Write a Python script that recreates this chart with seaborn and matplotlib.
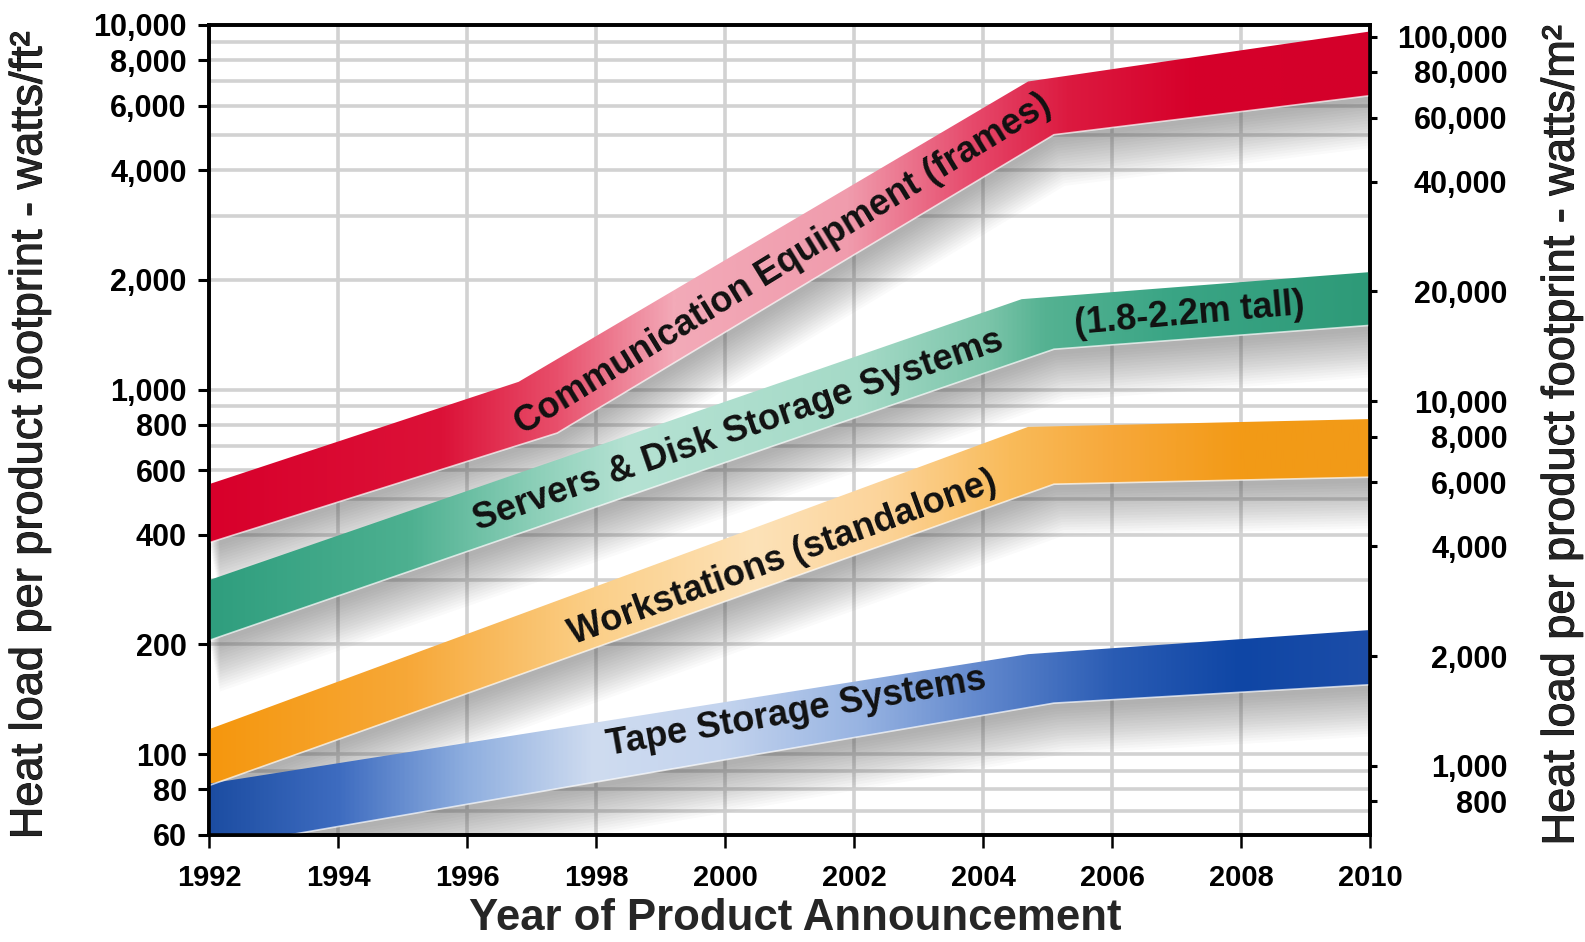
import numpy as np
import matplotlib
matplotlib.use("Agg")
import matplotlib.pyplot as plt
import matplotlib.patheffects as pe
import seaborn as sns
from matplotlib.patches import Polygon
from matplotlib.colors import LinearSegmentedColormap
from matplotlib.ticker import FixedLocator, FuncFormatter, LogLocator, NullFormatter

# Heat load bands (watts/ft^2): upper and lower edge of each band
comm_top_years = [1992, 1996.8, 2004.7, 2010]
comm_top = [550, 1050, 7000, 9600]
comm_bot_years = [1992, 1997.4, 2005.1, 2010]
comm_bot = [380, 760, 5000, 6400]

srv_top_years = [1992, 2004.6, 2010]
srv_top = [300, 1770, 2100]
srv_bot_years = [1992, 2005.1, 2010]
srv_bot = [205, 1290, 1500]

ws_top_years = [1992, 2004.7, 2010]
ws_top = [117, 790, 830]
ws_bot_years = [1992, 2005.1, 2010]
ws_bot = [82, 550, 575]

tape_top_years = [1992, 2004.7, 2010]
tape_top = [83, 188, 219]
tape_bot_years = [1992, 2005.1, 2010]
tape_bot = [55, 138, 155]

left_ticks = [60, 80, 100, 200, 400, 600, 800, 1000, 2000, 4000, 6000, 8000, 10000]
right_ticks = [800, 1000, 2000, 4000, 6000, 8000, 10000, 20000, 40000, 60000, 80000, 100000]
year_ticks = list(range(1992, 2011, 2))
FT2_TO_M2 = 10.764
YMIN, YMAX = 60, 10000

# colour stops along the x axis (fraction of 1992..2010)
red_stops = [(0, '#d8002b'), (0.2, '#dc1238'), (0.3, '#e8506c'), (0.4, '#f3aab8'),
             (0.55, '#f09cad'), (0.66, '#e6486a'), (0.74, '#dc1a40'), (0.85, '#d6002a'), (1, '#d4002a')]
grn_stops = [(0, '#2f9e7e'), (0.17, '#4db090'), (0.28, '#8ccfb8'), (0.36, '#b5e2d3'),
             (0.56, '#a5dac7'), (0.67, '#7cc5aa'), (0.72, '#55b292'), (0.83, '#3aa585'), (1, '#2e9a78')]
org_stops = [(0, '#f5970e'), (0.17, '#f7a838'), (0.33, '#fbcf88'), (0.47, '#fde2b8'),
             (0.58, '#fcd49a'), (0.69, '#f9bb5a'), (0.78, '#f7a83a'), (0.89, '#f39a16'), (1, '#f29a18')]
blu_stops = [(0, '#1c4da2'), (0.11, '#3e6cc0'), (0.22, '#8eaedf'), (0.33, '#cfdcf0'),
             (0.44, '#c4d4ee'), (0.56, '#98b4e2'), (0.67, '#5f86cc'), (0.78, '#2a5cb4'), (0.89, '#0f46a5'), (1, '#1c4da8')]

sns.set_theme(style="white")
plt.rcParams['font.family'] = ['Liberation Sans', 'DejaVu Sans']

fig = plt.figure(figsize=(15.85, 9.42), dpi=100)
ax = fig.add_axes([209 / 1585, 1 - 835 / 942, 1161 / 1585, 810 / 942])
ax.set_yscale('log')
ax.set_xlim(1992, 2010)
ax.set_ylim(YMIN, YMAX)


def draw_band(xt, yt, xb, yb, stops, name):
    xs = np.r_[xt, xb[::-1]]
    ys = np.r_[yt, yb[::-1]]
    # soft drop shadow: band shifted down in several faint layers
    for d in np.linspace(0.015, 0.14, 18):
        sh = np.column_stack([xs + d * 1.2, ys / 10 ** d])
        ax.add_patch(Polygon(sh, closed=True, facecolor='#4a4a4a', edgecolor='none',
                             alpha=0.028, zorder=2))
    poly = Polygon(np.column_stack([xs, ys]), closed=True, facecolor='none',
                   edgecolor='none', transform=ax.transData)
    ax.add_patch(poly)
    cmap = LinearSegmentedColormap.from_list(name, stops)
    im = ax.imshow(np.linspace(0, 1, 512)[None, :], extent=[1992, 2010, YMIN, YMAX],
                   aspect='auto', cmap=cmap, origin='lower', interpolation='bilinear', zorder=3)
    im.set_clip_path(poly)
    # thin light edge under the band
    sns.lineplot(x=xb, y=yb, color='white', lw=1.2, alpha=0.7, ax=ax, zorder=4)


draw_band(comm_top_years, comm_top, comm_bot_years, comm_bot, red_stops, 'comm')
draw_band(srv_top_years, srv_top, srv_bot_years, srv_bot, grn_stops, 'srv')
draw_band(ws_top_years, ws_top, ws_bot_years, ws_bot, org_stops, 'ws')
draw_band(tape_top_years, tape_top, tape_bot_years, tape_bot, blu_stops, 'tape')

ax.set_xlim(1992, 2010)
ax.set_ylim(YMIN, YMAX)
ax.set_aspect('auto')

# band labels
lab_kw = dict(rotation_mode='anchor', ha='center', va='center', fontweight='bold', zorder=6,
              color='#111111', fontsize=26)
ax.text(2000.9, 2200, 'Communication Equipment (frames)', rotation=31.5, **lab_kw)
ax.text(2000.2, 770, 'Servers & Disk Storage Systems', rotation=19, **lab_kw)
ax.text(2007.2, 1610, '(1.8-2.2m tall)', rotation=5, **lab_kw)
ax.text(2000.9, 345, 'Workstations (standalone)', rotation=20, **lab_kw)
ax.text(2001.1, 130, 'Tape Storage Systems', rotation=10, **lab_kw)

# grid and ticks
ax.set_axisbelow(True)
ax.xaxis.set_major_locator(FixedLocator(year_ticks))
ax.yaxis.set_major_locator(FixedLocator(left_ticks))
ax.yaxis.set_minor_locator(LogLocator(base=10, subs=np.arange(1, 10)))
ax.yaxis.set_minor_formatter(NullFormatter())
ax.yaxis.set_major_formatter(FuncFormatter(lambda v, p: f"{int(round(v)):,}"))
ax.grid(True, which='both', axis='y', color='#d2d2d2', lw=2.6)
ax.grid(True, which='major', axis='x', color='#d2d2d2', lw=2.6)
ax.tick_params(axis='y', which='minor', length=0)
ax.tick_params(axis='y', which='major', direction='out', length=8, width=2.2, pad=8,
               labelsize=22, left=True, colors='black')
ax.tick_params(axis='x', direction='out', length=9, width=1.8, pad=12, labelsize=21,
               bottom=True, colors='black')
for t in ax.get_xticklabels() + ax.get_yticklabels():
    t.set_fontweight('bold')
for s in ax.spines.values():
    s.set_color('black')
    s.set_linewidth(2.6)

# right axis in watts/m^2
ax2 = ax.twinx()
ax2.set_yscale('log')
ax2.set_ylim(YMIN * FT2_TO_M2, YMAX * FT2_TO_M2)
ax2.yaxis.set_major_locator(FixedLocator(right_ticks))
ax2.yaxis.set_minor_locator(FixedLocator([]))
ax2.yaxis.set_major_formatter(FuncFormatter(lambda v, p: f"{int(round(v)):,}"))
ax2.tick_params(axis='y', which='major', direction='out', length=5, width=2.2, pad=94,
                labelsize=22, right=True, colors='black')
for t in ax2.get_yticklabels():
    t.set_fontweight('bold')
    t.set_horizontalalignment('right')
ax2.grid(False)
for s in ax2.spines.values():
    s.set_color('black')
    s.set_linewidth(2.6)

heavy = [pe.withStroke(linewidth=0.7, foreground='black')]
fig.text(30 / 1585, 1 - 436 / 942, 'Heat load per product footprint - watts/ft²',
         rotation=90, ha='center', va='center', fontsize=32.5, path_effects=heavy)
fig.text(1562 / 1585, 1 - 436 / 942, 'Heat load per product footprint - watts/m²',
         rotation=90, ha='center', va='center', fontsize=32.5, path_effects=heavy)
fig.text(795 / 1585, 1 - 918 / 942, 'Year of Product Announcement',
         ha='center', va='center', fontsize=31.5, fontweight='bold')

fig.savefig('out.png', dpi=100, facecolor='white')
